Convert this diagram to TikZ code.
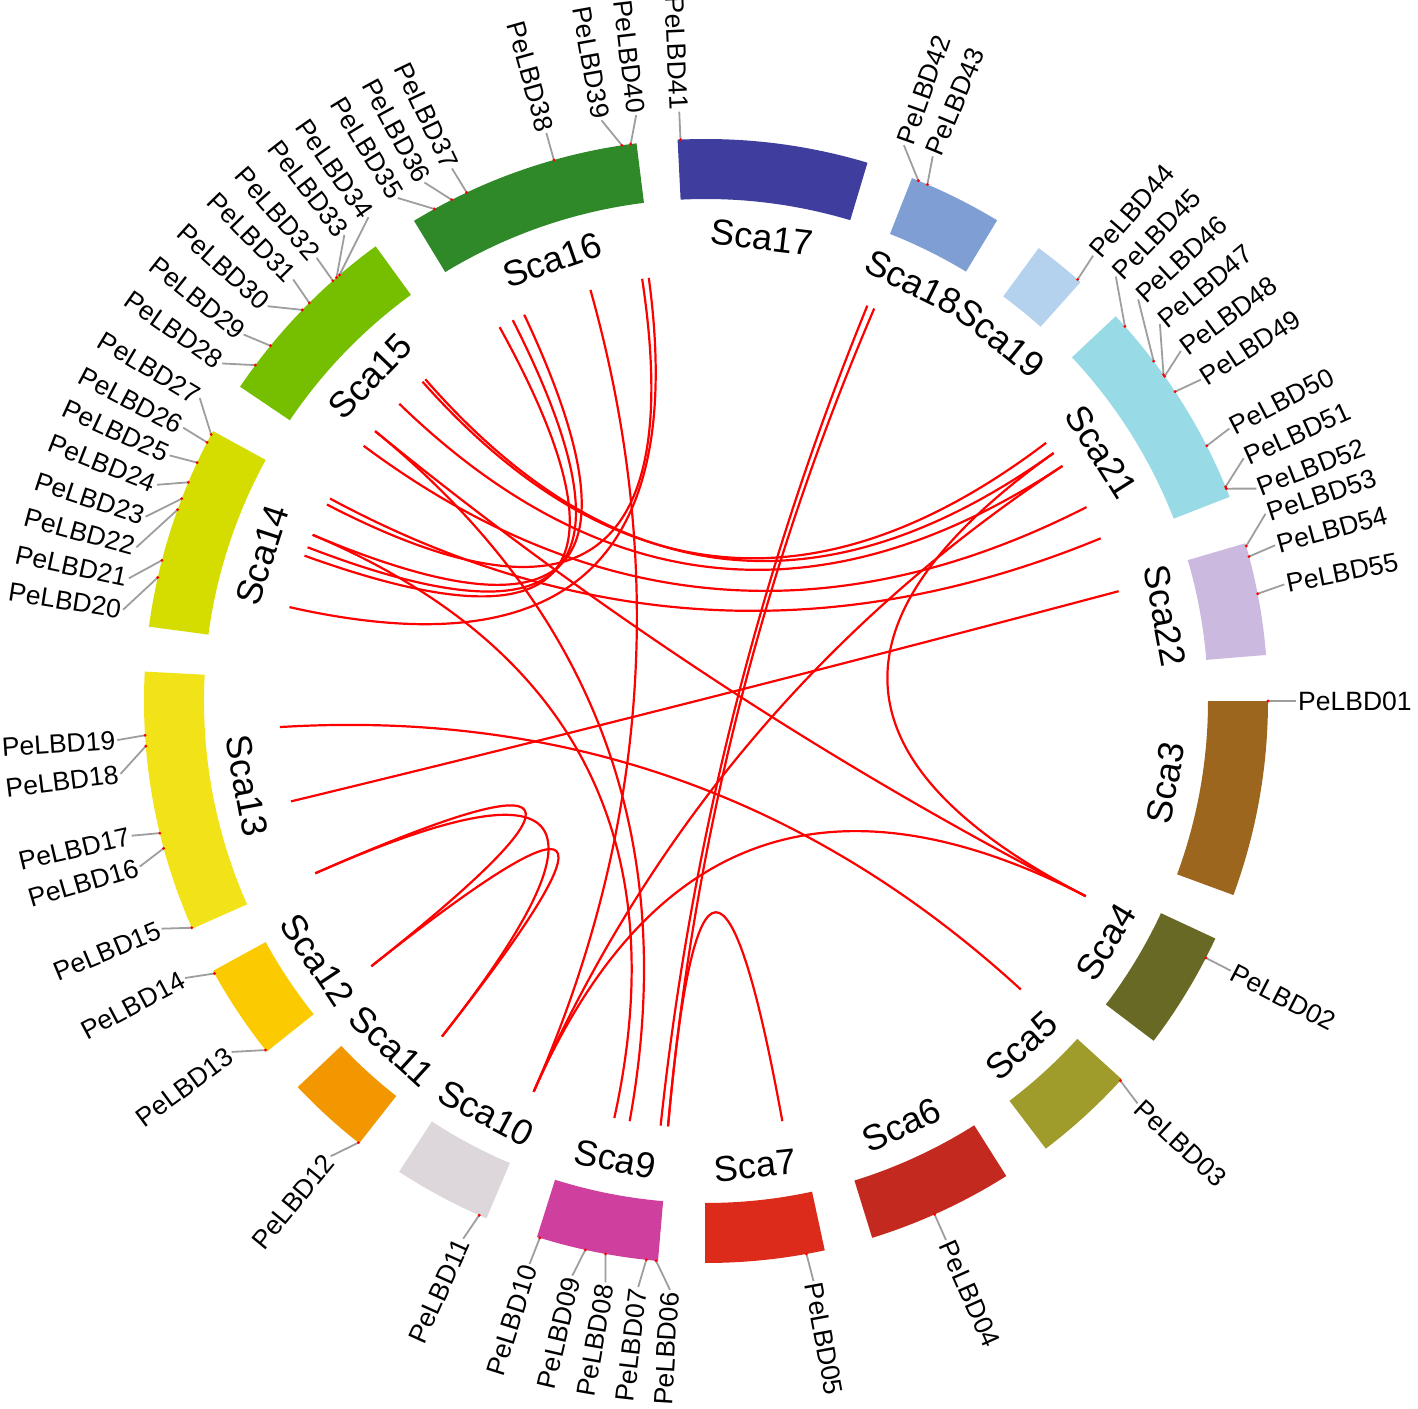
\documentclass[tikz,border=0pt]{standalone}
\usepackage{fontspec}
\setmainfont{Liberation Sans}
\usetikzlibrary{calc}

\definecolor{sca3}{HTML}{9C661F}
\definecolor{sca4}{HTML}{686925}
\definecolor{sca5}{HTML}{A09C2B}
\definecolor{sca6}{HTML}{C4291F}
\definecolor{sca7}{HTML}{DC2B1B}
\definecolor{sca9}{HTML}{CF3F9E}
\definecolor{sca10}{HTML}{DDD6DA}
\definecolor{sca11}{HTML}{F29700}
\definecolor{sca12}{HTML}{FBCA00}
\definecolor{sca13}{HTML}{F2E218}
\definecolor{sca14}{HTML}{D5DD00}
\definecolor{sca15}{HTML}{76BF00}
\definecolor{sca16}{HTML}{2F8929}
\definecolor{sca17}{HTML}{3F3E9E}
\definecolor{sca18}{HTML}{7F9ED3}
\definecolor{sca19}{HTML}{B4D2EE}
\definecolor{sca21}{HTML}{98DBE7}
\definecolor{sca22}{HTML}{CBB9DF}

\tikzset{
  leader/.style={draw=black!38,line width=1.8pt},
  link/.style={draw=red,line width=2.2pt},
  genelabel/.style={inner sep=0pt,font=\fontsize{26.5}{30}\selectfont},
  scalabel/.style={inner sep=0pt,font=\fontsize{36}{40}\selectfont},
}

\begin{document}
\begin{tikzpicture}[x=1pt,y=1pt]
         \useasboundingbox (-706,-707) rectangle (712,701) ;
         \coordinate (O) at (0,0) ;
         % scaffolds: name/start/end
         \foreach \s/\x/\y in {3/0/-20.2, 4/-25/-37.2, 5/-42.3/-52.8, 6/-57.7/-72.8,
             7/-77.8/-90.1, 9/-94.9/-107.5, 10/-113/-123.1, 11/-128.1/-136.6,
             12/-141.4/-151.3, 13/-156.1/-183, 14/172.4/151.3, 15/146/126,
             16/121.3/97.1, 17/92.9/73.3, 18/68.5/58.8, 19/53.7/48.2,
             21/43.2/21.3, 22/16.3/4.7} {
           \fill[sca\s] (\x:502) -- (\x:562) arc[start angle=\x,end angle=\y,radius=562]
               -- (\y:502) arc[start angle=\y,end angle=\x,radius=502] -- cycle ;
           \pgfmathsetmacro\ma{(\x+\y)/2}
           \pgfmathsetmacro\ra{sin(\ma)>=0 ? \ma-90 : \ma+90}
           \node[scalabel,rotate=\ra] (sca\s) at (\ma:467) {Sca\s} ;
         }
         % genes on the right: name/tick/label
         \foreach \g/\tk/\lb in {01/0/0, 02/-27.2/-27.2, 03/-42.5/-43, 04/-66/-66,
             05/-79.7/-79.5, 42/67.8/70.4, 43/66.8/67.4, 44/48.6/49, 45/41.8/46,
             46/37.2/42.9, 47/35.5/39.7, 48/35.3/36.4, 49/33.4/33, 50/27/27.5,
             51/22.4/24.3, 52/22.2/21.1, 53/16/18.5, 54/14.9/15.3, 55/11/11.4} {
           \coordinate (t\g) at (\tk:562) ;
           \coordinate (e\g) at (\lb:590) ;
           \coordinate (k\g) at (\tk:427) ;
           \draw[leader] (t\g) -- (e\g) ;
           \fill[red] (t\g) circle (1.6) ;
           \node[genelabel,anchor=west,rotate=\lb] (l\g) at (\lb:592) {PeLBD\g} ;
         }
         % genes on the left
         \foreach \g/\tk/\lb in {06/-95.1/-93.5, 07/-96.1/-96.6, 08/-100.3/-99.8,
             09/-102.4/-103.1, 10/-107.2/-107.4, 11/-113.8/-114.3, 12/-128.2/-129.5,
             13/-141.6/-143.5, 14/-151/-152, 15/-156.2/-157.3, 16/-164.8/-163.7,
             17/-166.4/-166.8, 18/-175.4/-172.9, 19/-176.5/-176.2, 20/167.3/171.1,
             21/165.5/168, 22/160.1/164.9, 23/158.9/161.8, 24/157.1/158.5,
             25/154.9/155.4, 26/152.6/152.4, 27/151.7/149.1, 28/143.3/145.1,
             29/140.8/141.6, 30/135.9/138, 31/134.9/134.4, 32/131.6/131.3,
             33/131.1/127.8, 34/130.7/124.9, 35/118.9/121.5, 36/116.9/118.5,
             37/115.2/115.5, 38/105.7/105.7, 39/98.6/100.2, 40/97.7/96.8,
             41/92.6/92.6} {
           \coordinate (t\g) at (\tk:562) ;
           \coordinate (e\g) at (\lb:590) ;
           \coordinate (k\g) at (\tk:427) ;
           \draw[leader] (t\g) -- (e\g) ;
           \fill[red] (t\g) circle (1.6) ;
           \pgfmathsetmacro\ra{\lb+180}
           \node[genelabel,anchor=east,rotate=\ra] (l\g) at (\lb:592) {PeLBD\g} ;
         }
         % duplicated pairs
         \foreach \p/\q in {19/03, 17/54, 15/13, 15/12, 13/12, 11/02, 11/49, 11/38,
             47/02, 29/02, 29/08, 24/09, 20/40, 06/05, 42/07, 43/06, 22/35,
             23/36, 24/37, 26/39, 32/46, 33/47, 30/49, 28/50, 27/51}
           \draw[link] (k\p) .. controls ($(k\p)!0.667!(O)$) and ($(k\q)!0.667!(O)$) .. (k\q) ;
      \end{tikzpicture}
\end{document}
